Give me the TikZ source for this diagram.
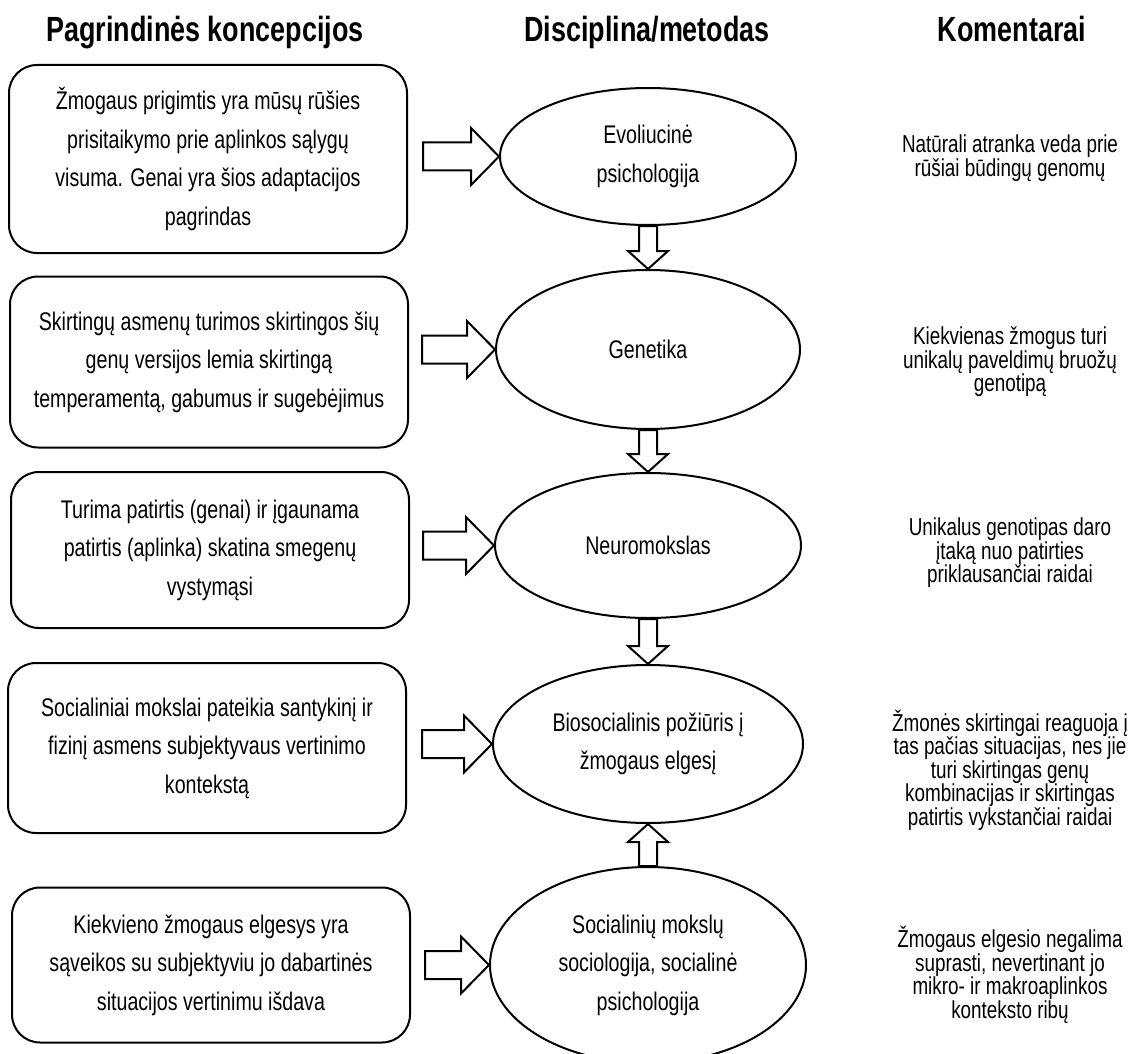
\documentclass[tikz,border=0pt]{standalone}
\usepackage{fontspec}
\setmainfont{Liberation Sans}
\newfontfamily\narrowfont[FakeStretch=0.77]{Liberation Sans}
\usetikzlibrary{shapes.geometric,calc}

\newcommand{\headtext}{\narrowfont\bfseries\fontsize{35}{38}\selectfont}
\newcommand{\bodytext}{\narrowfont\fontsize{25.5}{38.5}\selectfont}
\newcommand{\notetext}{\narrowfont\fontsize{24.5}{23.5}\selectfont}

\tikzset{
  blockarrow/.style n args={3}{draw,line width=2pt,fill=white,
    to path={($(\tikztostart)!#1!90:(\tikztotarget)$)
      -- ($(\tikztotarget)!#3!(\tikztostart)!#1!-90:(\tikztostart)$)
      -- ($(\tikztotarget)!#3!(\tikztostart)!#2!-90:(\tikztostart)$)
      -- (\tikztotarget)
      -- ($(\tikztotarget)!#3!(\tikztostart)!#2!90:(\tikztostart)$)
      -- ($(\tikztotarget)!#3!(\tikztostart)!#1!90:(\tikztostart)$)
      -- ($(\tikztostart)!#1!-90:(\tikztotarget)$) -- cycle}}
}

\begin{document}
\begin{tikzpicture}[x=1pt,y=-1pt]
      \useasboundingbox (0,0) rectangle (1130,1054);
      \begin{scope}[every node/.style={anchor=base,font=\headtext}]
        \node (h1) at (205,42) {Pagrindinės koncepcijos};
        \node (h2) at (647,42) {Disciplina/metodas};
        \node (h3) at (1012,42) {Komentarai};
      \end{scope}
      \begin{scope}[every node/.style={draw,line width=2pt,rounded corners=28pt,align=center,
          inner sep=0pt,minimum width=398pt,font=\bodytext}]
        \node[minimum height=188pt] (k1) at (208,159) {Žmogaus prigimtis yra mūsų rūšies\\prisitaikymo prie aplinkos sąlygų\\visuma. Genai yra šios adaptacijos\\pagrindas};
        \node[minimum height=171pt] (k2) at (209,362) {Skirtingų asmenų turimos skirtingos šių\\genų versijos lemia skirtingą\\temperamentą, gabumus ir sugebėjimus};
        \node[minimum height=156pt] (k3) at (210,550) {Turima patirtis (genai) ir įgaunama\\patirtis (aplinka) skatina smegenų\\vystymąsi};
        \node[minimum height=170pt] (k4) at (207,748) {Socialiniai mokslai pateikia santykinį ir\\fizinį asmens subjektyvaus vertinimo\\kontekstą};
        \node[minimum height=155pt] (k5) at (211,965) {Kiekvieno žmogaus elgesys yra\\sąveikos su subjektyviu jo dabartinės\\situacijos vertinimu išdava};
      \end{scope}
      \begin{scope}[every node/.style={ellipse,draw,line width=2pt,align=center,inner sep=0pt,font=\bodytext}]
        \node[minimum width=296pt,minimum height=137pt] (d1) at (648,156.5) {Evoliucinė\\psichologija};
        \node[minimum width=304pt,minimum height=159pt] (d2) at (648,349.5) {Genetika};
        \node[minimum width=306pt,minimum height=145pt] (d3) at (648,545.5) {Neuromokslas};
        \node[minimum width=310pt,minimum height=158pt] (d4) at (648,744) {Biosocialinis požiūris į\\žmogaus elgesį};
        \node[minimum width=316pt,minimum height=196pt] (d5) at (648,965) {Socialinių mokslų\\sociologija, socialinė\\psichologija};
      \end{scope}
      \begin{scope}[every node/.style={align=center,font=\notetext}]
        \node (c1) at (1010,158) {Natūrali atranka veda prie\\rūšiai būdingų genomų};
        \node (c2) at (1010,362) {Kiekvienas žmogus turi\\unikalų paveldimų bruožų\\genotipą};
        \node (c3) at (1010,553) {Unikalus genotipas daro\\įtaką nuo patirties\\priklausančiai raidai};
        \node (c4) at (1010,770) {Žmonės skirtingai reaguoja į\\tas pačias situacijas, nes jie\\turi skirtingas genų\\kombinacijas ir skirtingas\\patirtis vykstančiai raidai};
        \node (c5) at (1010,975) {Žmogaus elgesio negalima\\suprasti, nevertinant jo\\mikro- ir makroaplinkos\\konteksto ribų};
      \end{scope}
      \begin{scope}[every edge/.style={blockarrow={14pt}{28.5pt}{28pt}}]
        \path ($(k1.east |- d1.west)+(15,0)$) edge (d1.west);
        \path ($(k2.east |- d2.west)+(13,0)$) edge (d2.west);
        \path ($(k3.east |- d3.west)+(13,0)$) edge (d3.west);
        \path ($(k4.east |- d4.west)+(15,0)$) edge (d4.west);
        \path ($(k5.east |- d5.west)+(14,0)$) edge (d5.west);
      \end{scope}
      \begin{scope}[every edge/.style={blockarrow={9pt}{20pt}{18pt}}]
        \path (d1.south) edge (d2.north);
        \path (d2.south) edge (d3.north);
        \path (d3.south) edge (d4.north);
        \path (d5.north) edge (d4.south);
      \end{scope}
    \end{tikzpicture}
\end{document}
